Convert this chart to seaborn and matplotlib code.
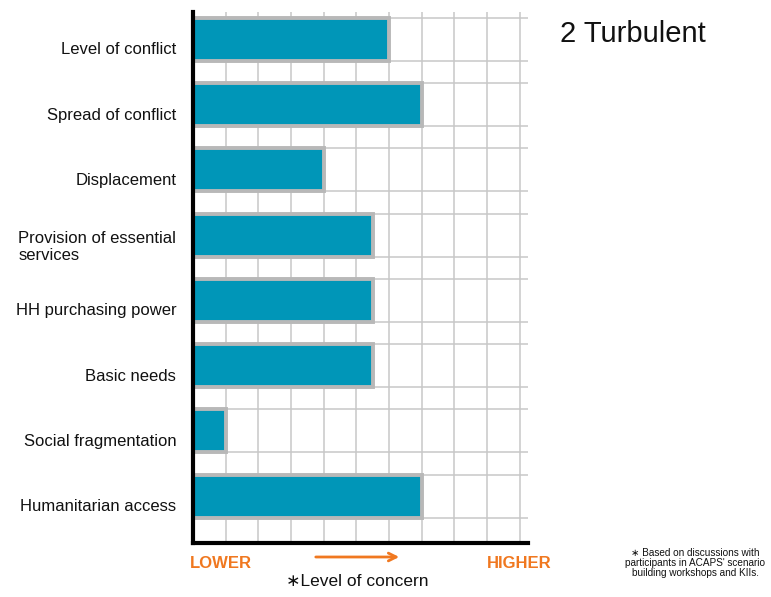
import matplotlib
matplotlib.use("Agg")
import matplotlib.pyplot as plt
import matplotlib.transforms as mtransforms
import seaborn as sns
import pandas as pd

categories = ["Level of conflict", "Spread of conflict", "Displacement",
              "Provision of essential\nservices", "HH purchasing power",
              "Basic needs", "Social fragmentation", "Humanitarian access"]
values = [6, 7, 4, 5.5, 5.5, 5.5, 1, 7]
title = "2 Turbulent"
low_label = "LOWER"
high_label = "HIGHER"
axis_label = "\u2217Level of concern"
footnote = "\u2217 Based on discussions with\nparticipants in ACAPS' scenario\nbuilding workshops and KIIs."

sns.set_theme(style="white")
plt.rcParams['font.family'] = ['Liberation Sans', 'DejaVu Sans']

df = pd.DataFrame({"cat": categories, "val": values})

fig = plt.figure(figsize=(7.71, 5.97), dpi=100)
ax = fig.add_axes([193/771, 1-543/597, (528-193)/771, (543-12)/597])

sns.barplot(data=df, y="cat", x="val", orient="h", width=0.66,
            color="#0096b8", saturation=1, edgecolor="#b8b8b8", linewidth=2.8,
            ax=ax, zorder=3)

ax.set_xlim(0, 10.25)
ax.set_ylim(7.72, -0.42)
ax.set_xticks(range(0, 11))
ax.set_xticklabels([])
ax.tick_params(axis="x", length=0)
edges = []
for i in range(len(categories)):
    edges += [i - 0.33, i + 0.33]
ax.set_yticks(edges, minor=True)
ax.tick_params(axis="y", which="both", length=0)
ax.grid(True, axis="x", which="major", color="#c8c8c8", linewidth=1.1, zorder=0)
ax.grid(True, axis="y", which="minor", color="#c8c8c8", linewidth=1.1, zorder=0)
ax.grid(False, axis="y", which="major")
ax.set_axisbelow(True)
ax.set_xlabel("")
ax.set_ylabel("")

for s in ["top", "right"]:
    ax.spines[s].set_visible(False)
for s in ["left", "bottom"]:
    ax.spines[s].set_visible(True)
    ax.spines[s].set_color("black")
    ax.spines[s].set_linewidth(3)
ax.spines["left"].set_zorder(5)

ax.set_yticks(range(len(categories)))
ax.set_yticklabels(categories, fontsize=12, color="#111111", multialignment="left")
ax.tick_params(axis="y", which="major", pad=12)
offset = mtransforms.ScaledTranslation(0, -9/100, fig.dpi_scale_trans)
for lbl in ax.get_yticklabels():
    lbl.set_transform(lbl.get_transform() + offset)

fig.text(560/771, 1-34/597, title, fontsize=21, color="#111111", va="center", ha="left")
fig.text(190/771, 1-564/597, low_label, fontsize=12, color="#f07820", va="center", ha="left", fontweight="bold")
fig.text(552/771, 1-564/597, high_label, fontsize=12, color="#f07820", va="center", ha="right", fontweight="bold")
fig.text(357/771, 1-582/597, axis_label, fontsize=12.5, color="#111111", va="center", ha="center")
fig.add_artist(matplotlib.patches.FancyArrowPatch((313/771, 1-557/597), (402/771, 1-557/597),
                                                  transform=fig.transFigure, arrowstyle="->",
                                                  mutation_scale=14, color="#f07820", linewidth=2))
fig.text(695/771, 1-563/597, footnote, fontsize=7.2, color="#111111", va="center", ha="center",
         linespacing=1.0)

fig.savefig("out.png", dpi=100, facecolor="white")
